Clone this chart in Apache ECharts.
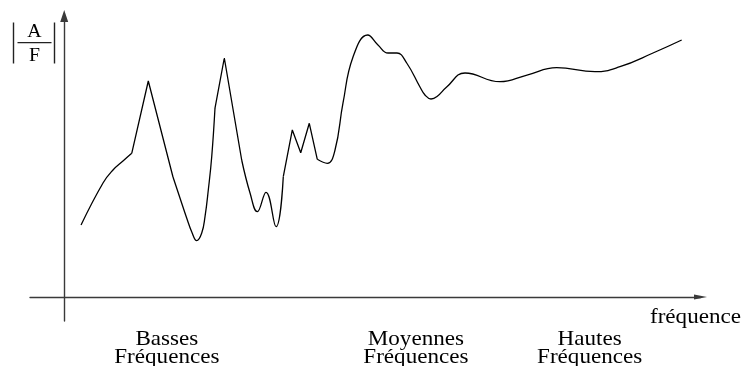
<!DOCTYPE html>
<html>
<head>
<meta charset="utf-8">
<script src="https://cdn.jsdelivr.net/npm/echarts@6/dist/echarts.min.js"></script>
<style>
  html, body { margin: 0; padding: 0; background: #fff; }
  #chart { width: 742px; height: 366px; }
</style>
</head>
<body>
<div id="chart"></div>
<script>
// Frequency response sketch: |A/F| against frequency (arbitrary units)
const freq = [2.46, 5.67, 7.13, 8.59, 9.87, 12.29, 15.90, 16.92, 17.90, 18.63,
              19.37, 20.10, 20.58, 21.06, 21.56, 22.04, 23.40, 25.94, 27.16, 28.22,
              29.49, 30.96, 32.02, 33.34, 34.57, 35.82, 36.99, 38.45, 39.58, 40.75,
              42.21, 44.36, 45.86, 47.33, 48.64, 50.06, 52.00, 52.73, 53.61, 54.49,
              55.90, 58.58, 63.69, 67.64, 71.98, 77.58, 81.23, 86.06, 90.25];
const amp  = [24.0, 38.0, 42.33, 45.33, 47.9, 72.0, 40.0, 33.0, 26.33, 21.77,
              18.77, 21.33, 26.77, 35.67, 46.77, 63.0, 79.67, 45.67, 34.67, 28.43,
              34.9, 23.43, 40.1, 55.67, 48.1, 57.9, 45.9, 44.57, 49.0, 64.67,
              80.0, 87.33, 84.0, 81.33, 81.33, 78.0, 70.0, 67.33, 66.0, 66.83,
              70.0, 74.67, 71.77, 74.0, 76.43, 75.1, 76.77, 81.33, 85.67];
// stretches of the curve: [first index, last index, rounded?]
const pieces = [[0, 4, true], [4, 6, false], [6, 15, true], [15, 17, false],
                [17, 22, true], [22, 26, false], [26, 48, true]];

// frequency bands written under the axis
const bandNames   = ['Basses\nFréquences', 'Moyennes\nFréquences', 'Hautes\nFréquences'];
const bandCenters = [15.0, 51.4, 76.8];
const axisName = 'fréquence';

const SERIF = '"Liberation Serif", "DejaVu Serif", serif';
const chart = echarts.init(document.getElementById('chart'), null, { renderer: 'canvas' });

const series = pieces.map(([a, b, rounded]) => ({
  type: 'line',
  data: freq.slice(a, b + 1).map((f, k) => [f, amp[a + k]]),
  smooth: rounded ? 0.45 : false,
  symbol: 'none',
  silent: true,
  lineStyle: { color: '#000', width: 1.3 }
}));

const axisStyle = { color: '#3a3a3a', width: 1.4 };

chart.setOption({
  animation: false,
  backgroundColor: '#fff',
  grid: { left: 30, right: 41.5, top: 16, bottom: 45 },
  xAxis: {
    type: 'value', min: -5, max: 93,
    axisLine: { onZero: true, symbol: ['none', 'triangle'], symbolSize: [5, 13], lineStyle: axisStyle },
    axisTick: { show: false }, axisLabel: { show: false }, splitLine: { show: false }
  },
  yAxis: {
    type: 'value', min: -8, max: 93.67,
    axisLine: { onZero: true, symbol: ['none', 'triangle'], symbolSize: [8, 12], lineStyle: axisStyle },
    axisTick: { show: false }, axisLabel: { show: false }, splitLine: { show: false }
  },
  series: series
});

// axis title |A/F| drawn as a fraction between two bars, plus band and axis labels
const textStyle = (text, size, align) => ({
  text: text, font: size + 'px ' + SERIF, fill: '#000', align: align,
  verticalAlign: 'middle', lineHeight: 18
});
const graphics = [
  { type: 'line', shape: { x1: 13.5, y1: 22.5, x2: 13.5, y2: 63.5 }, style: { stroke: '#222', lineWidth: 1.4 } },
  { type: 'line', shape: { x1: 54.5, y1: 22.5, x2: 54.5, y2: 63.5 }, style: { stroke: '#222', lineWidth: 1.4 } },
  { type: 'line', shape: { x1: 17.5, y1: 42.7, x2: 51.5, y2: 42.7 }, style: { stroke: '#222', lineWidth: 1.2 } },
  { type: 'text', x: 34.5, y: 32.5, scaleX: 1.1, style: textStyle('A', 18, 'center') },
  { type: 'text', x: 34.5, y: 56.5, scaleX: 1.1, style: textStyle('F', 18, 'center') },
  { type: 'text', x: 741, y: 317, scaleX: 1.1, style: textStyle(axisName, 21, 'right') }
];
bandNames.forEach((name, i) => {
  const px = chart.convertToPixel({ xAxisIndex: 0 }, bandCenters[i]);
  graphics.push({ type: 'text', x: px, y: 348.5, scaleX: 1.1, style: textStyle(name, 21, 'center') });
});
chart.setOption({ graphic: graphics });
</script>
</body>
</html>
